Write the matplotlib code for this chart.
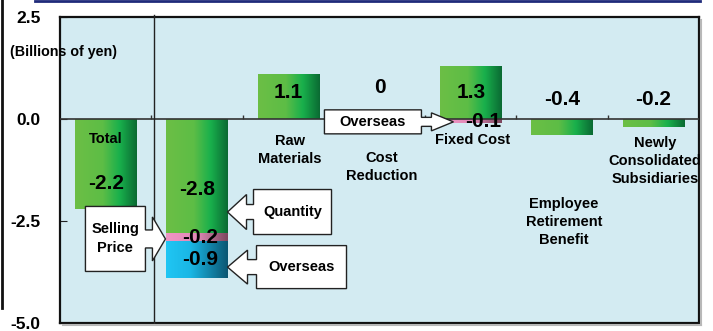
import numpy as np
import matplotlib
matplotlib.use("Agg")
import matplotlib.pyplot as plt
from matplotlib.colors import LinearSegmentedColormap
from matplotlib.patches import Polygon
from matplotlib.lines import Line2D

plt.rcParams['font.family'] = ['Liberation Sans', 'DejaVu Sans']
plt.rcParams['font.weight'] = 'bold'
plt.rcParams['axes.unicode_minus'] = False

# ---- data (billions of yen) ----
categories = ["Total", "Selling Price", "Raw Materials", "Cost Reduction",
              "Fixed Cost", "Employee Retirement Benefit",
              "Newly Consolidated Subsidiaries"]
main_values = [-2.2, -2.8, 1.1, 0.0, 1.3, -0.4, -0.2]
pink_values = [0.0, -0.2, 0.0, 0.0, -0.1, 0.0, 0.0]
overseas_values = [0.0, -0.9, 0.0, 0.0, 0.0, 0.0, 0.0]
yticks = [2.5, 0.0, -2.5, -5.0]
ytick_labels = ["2.5", "0.0", "-2.5", "-5.0"]

cat_text = ["Total", "", "Raw\nMaterials", "Cost\nReduction", "Fixed Cost",
            "Employee\nRetirement\nBenefit", "Newly\nConsolidated\nSubsidiaries"]
cat_text_y = [-0.49, 0, -0.76, -1.18, -0.51, -2.52, -1.03]
value_text_y = [-1.57, -1.74, 0.64, 0.76, 0.64, 0.47, 0.47]

green = LinearSegmentedColormap.from_list(
    "g", [(0, "#6cbf45"), (0.45, "#5dbd46"), (0.72, "#19b04c"), (1, "#0a6a33")])
blue = LinearSegmentedColormap.from_list(
    "b", [(0, "#20c6f4"), (0.4, "#1ab6e4"), (1, "#0b5672")])
pink = LinearSegmentedColormap.from_list(
    "p", [(0, "#f094c4"), (0.5, "#e28ab7"), (1, "#7c475e")])

W, H, DPI = 713, 331, 100
fig = plt.figure(figsize=(W / DPI, H / DPI), dpi=DPI, facecolor="white")
ax_l, ax_r, ax_t, ax_b = 60, 699, 17, 323

# soft drop shadow on the right/bottom of the plot frame
fig.add_artist(Line2D([(ax_r + 2) / W, (ax_r + 2) / W],
                      [1 - (ax_t + 3) / H, 1 - (ax_b + 2) / H],
                      color="#b8b8b8", lw=1.5))
fig.add_artist(Line2D([(ax_l + 3) / W, (ax_r + 2) / W],
                      [1 - (ax_b + 2) / H, 1 - (ax_b + 2) / H],
                      color="#b8b8b8", lw=1.5))

ax = fig.add_axes([ax_l / W, 1 - ax_b / H, (ax_r - ax_l) / W, (ax_b - ax_t) / H])
ax.set_facecolor("#d3ebf2")

x = np.arange(len(categories))
bw = 0.67
grad = np.linspace(0, 1, 256).reshape(1, -1)


def gradient_bars(heights, bottoms, cmap):
    bars = ax.bar(x, heights, bw, bottom=bottoms, facecolor="none",
                  edgecolor="none", zorder=2)
    for b, h in zip(bars, heights):
        if h == 0:
            continue
        x0, y0 = b.get_x(), b.get_y()
        im = ax.imshow(grad, cmap=cmap, aspect="auto", interpolation="bilinear",
                       extent=[x0, x0 + b.get_width(), y0, y0 + b.get_height()],
                       zorder=2)
        im.set_clip_path(b)


main = np.array(main_values)
pk = np.array(pink_values)
ov = np.array(overseas_values)
neg_main = np.minimum(main, 0)
gradient_bars(main, np.zeros_like(main), green)
gradient_bars(pk, neg_main, pink)
gradient_bars(ov, neg_main + pk, blue)

ax.set_xlim(-0.5, len(categories) - 0.5)
ax.set_ylim(-5.0, 2.5)

# zero line, category dividers and separator after the total
ax.axhline(0, color="#333333", lw=1.2, zorder=3)
ax.vlines(np.arange(0.5, len(categories) - 1), 0, 0.1, color="#333333", lw=1, zorder=3)
ax.axvline(0.53, ymin=0, ymax=1.008, color="#222222", lw=1, clip_on=False, zorder=3)

for s in ax.spines.values():
    s.set_color("#111111")
    s.set_linewidth(1.6)

ax.set_xticks([])
ax.set_yticks(yticks)
ax.set_yticklabels(ytick_labels, fontsize=12.5, fontweight="bold")
ax.tick_params(axis="y", direction="in", length=5, pad=14, color="#222222")

fig.text(10 / W, 1 - 52 / H, "(Billions of yen)", fontsize=10.3,
         fontweight="bold", va="center", ha="left")

# category names and values
for i in range(len(categories)):
    if cat_text[i]:
        ax.text(x[i] + (0.02 if i else 0), cat_text_y[i], cat_text[i], ha="center",
                va="center", fontsize=10.5, fontweight="bold",
                linespacing=1.35, zorder=5)
    ax.text(x[i], value_text_y[i], f"{main_values[i]:g}", ha="center",
            va="center", fontsize=15, fontweight="bold", zorder=5)

# stacked segment values
ax.text(x[1] + 0.03, neg_main[1] + pk[1] / 2, f"{pink_values[1]:g}", ha="center",
        va="center", fontsize=15, fontweight="bold", zorder=5)
ax.text(x[1] + 0.03, neg_main[1] + pk[1] + ov[1] / 2, f"{overseas_values[1]:g}",
        ha="center", va="center", fontsize=15, fontweight="bold", zorder=5)
ax.text(x[4] + 0.14, -0.07, f"{pink_values[4]:g}", ha="center", va="center",
        fontsize=15, fontweight="bold", zorder=6)

# arrow callouts
ppx = (ax_r - ax_l) / len(categories)
ppy = (ax_b - ax_t) / 7.5


def callout(tx, ty, d, head_len, head_half, shaft_half, gap, box_w, box_h, text):
    pts = [(0, 0), (-d * head_len, head_half), (-d * head_len, shaft_half),
           (-d * gap, shaft_half), (-d * gap, box_h / 2),
           (-d * (gap + box_w), box_h / 2), (-d * (gap + box_w), -box_h / 2),
           (-d * gap, -box_h / 2), (-d * gap, -shaft_half),
           (-d * head_len, -shaft_half), (-d * head_len, -head_half)]
    data = [(tx + px / ppx, ty + py / ppy) for px, py in pts]
    ax.add_patch(Polygon(data, closed=True, facecolor="white",
                         edgecolor="#222222", lw=1.0, zorder=4))
    ax.text(tx - d * (gap + box_w / 2) / ppx, ty, text, ha="center",
            va="center", fontsize=10.5, fontweight="bold", linespacing=1.45,
            zorder=5)


left_edge = x[1] - bw / 2
right_edge = x[1] + bw / 2
callout(left_edge - 0.01, -2.94, 1, 13, 22, 9, 20, 60, 65, "Selling\nPrice")
callout(right_edge, -2.28, -1, 19, 17.5, 7.5, 26, 78, 45, "Quantity")
callout(right_edge, -3.63, -1, 20, 17, 7.5, 29, 90, 43, "Overseas")
callout(3.81, -0.07, 1, 22, 9, 4.5, 32, 97, 24, "Overseas")

# outer frame lines
fig.add_artist(Line2D([35 / W, 700 / W], [1 - 1 / H, 1 - 1 / H],
                      color="#1f2a7a", lw=2))
fig.add_artist(Line2D([1.5 / W, 1.5 / W], [1, 1 - 308 / H], color="#111111", lw=2))

fig.savefig("out.png", dpi=DPI, facecolor="white")
